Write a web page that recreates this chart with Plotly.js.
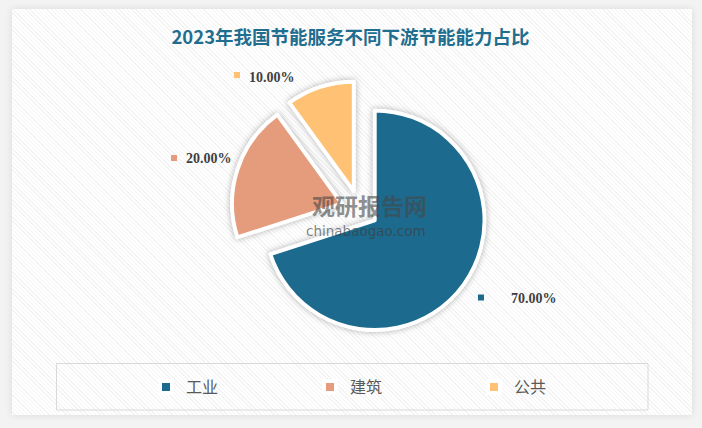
<!DOCTYPE html>
<html>
<head>
<meta charset="utf-8">
<script src="https://cdn.plot.ly/plotly-3.0.1.min.js"></script>
<style>
  html, body { margin: 0; padding: 0; }
  body { width: 702px; height: 428px; background: #f3f3f3; position: relative; overflow: hidden; }
  #card {
    position: absolute; left: 12px; top: 9px; width: 680px; height: 406px;
    background-color: #ffffff;
    background-image: repeating-linear-gradient(45deg, #ffffff 0px, #ffffff 2px, #f3f3f3 2px, #f3f3f3 3px);
    box-shadow: 0 0 8px rgba(0,0,0,0.10);
  }
  #chart { position: absolute; left: 0; top: 0; width: 702px; height: 428px; }
  .pielayer { filter: drop-shadow(0px 0px 3px rgba(0,0,0,0.30)); }
</style>
</head>
<body>
<div id="card"></div>
<div id="chart"></div>
<script>
// ---- data ----
const titleText = '2023年我国节能服务不同下游节能能力占比';
const categories = ['工业', '建筑', '公共'];
const values = [70, 20, 10];
const colors = ['#1c6b8e', '#e59c7c', '#ffc274'];

// ---- label placement (pixels in the 702x428 page) ----
const labelTextPos = [[509, 298.5], [184, 158.5], [247, 77]];
const labelSquarePos = [[478, 294.5], [171, 155], [234, 72]];
const W = 702, H = 428;
const px = x => x / W;
const py = y => 1 - y / H;

const total = values.reduce((a, b) => a + b, 0);

const annotations = [];
const shapes = [];

values.forEach((v, i) => {
  annotations.push({
    xref: 'paper', yref: 'paper',
    x: px(labelTextPos[i][0]), y: py(labelTextPos[i][1]),
    xanchor: 'left', yanchor: 'middle', showarrow: false,
    text: '<b>' + (v / total * 100).toFixed(2) + '%</b>',
    font: { family: 'Liberation Serif, serif', size: 14, color: '#404040' }
  });
  shapes.push({
    type: 'rect', xref: 'paper', yref: 'paper',
    x0: px(labelSquarePos[i][0]), x1: px(labelSquarePos[i][0] + 6),
    y0: py(labelSquarePos[i][1] + 6), y1: py(labelSquarePos[i][1]),
    fillcolor: colors[i], line: { width: 0 }
  });
});

// legend frame
shapes.push({
  type: 'rect', xref: 'paper', yref: 'paper',
  x0: px(56.5), x1: px(648), y0: py(410), y1: py(363.5),
  fillcolor: 'rgba(0,0,0,0)', line: { color: '#d9d9d9', width: 1 }
});

// watermark
annotations.push({
  xref: 'paper', yref: 'paper', x: px(369), y: py(205),
  xanchor: 'center', yanchor: 'middle', showarrow: false,
  text: '<b>观研报告网</b>',
  font: { family: 'Noto Sans CJK SC', size: 23, color: 'rgba(70,70,70,0.6)' }
});
annotations.push({
  xref: 'paper', yref: 'paper', x: px(366), y: py(231),
  xanchor: 'center', yanchor: 'middle', showarrow: false,
  text: 'chinabaogao.com',
  font: { family: 'DejaVu Sans', size: 13.5, color: 'rgba(60,60,60,0.65)' }
});

const trace = {
  type: 'pie',
  labels: categories,
  values: values,
  sort: false,
  direction: 'clockwise',
  rotation: 0,
  pull: [0.17, 0.17, 0.17],
  textinfo: 'none',
  hoverinfo: 'label+percent',
  marker: { colors: colors, line: { color: '#ffffff', width: 4 } },
  domain: { x: [px(231.1), px(488.1)], y: [py(337.8), py(80.8)] }
};

const layout = {
  width: W, height: H,
  margin: { l: 0, r: 0, t: 0, b: 0 },
  paper_bgcolor: 'rgba(0,0,0,0)',
  plot_bgcolor: 'rgba(0,0,0,0)',
  title: {
    text: '<b>' + titleText + '</b>',
    x: px(350.5), xanchor: 'center', y: py(38), yanchor: 'middle',
    font: { family: 'Noto Sans CJK SC', size: 18.5, color: '#1f6e8f' }
  },
  showlegend: true,
  legend: {
    orientation: 'h',
    x: px(146), xanchor: 'left',
    y: py(387), yanchor: 'middle',
    entrywidth: 119, entrywidthmode: 'pixels',
    bgcolor: 'rgba(0,0,0,0)',
    font: { family: 'Noto Sans CJK SC', size: 16, color: '#595959' }
  },
  shapes: shapes,
  annotations: annotations
};

Plotly.newPlot('chart', [trace], layout, { displayModeBar: false, staticPlot: true });
</script>
</body>
</html>
